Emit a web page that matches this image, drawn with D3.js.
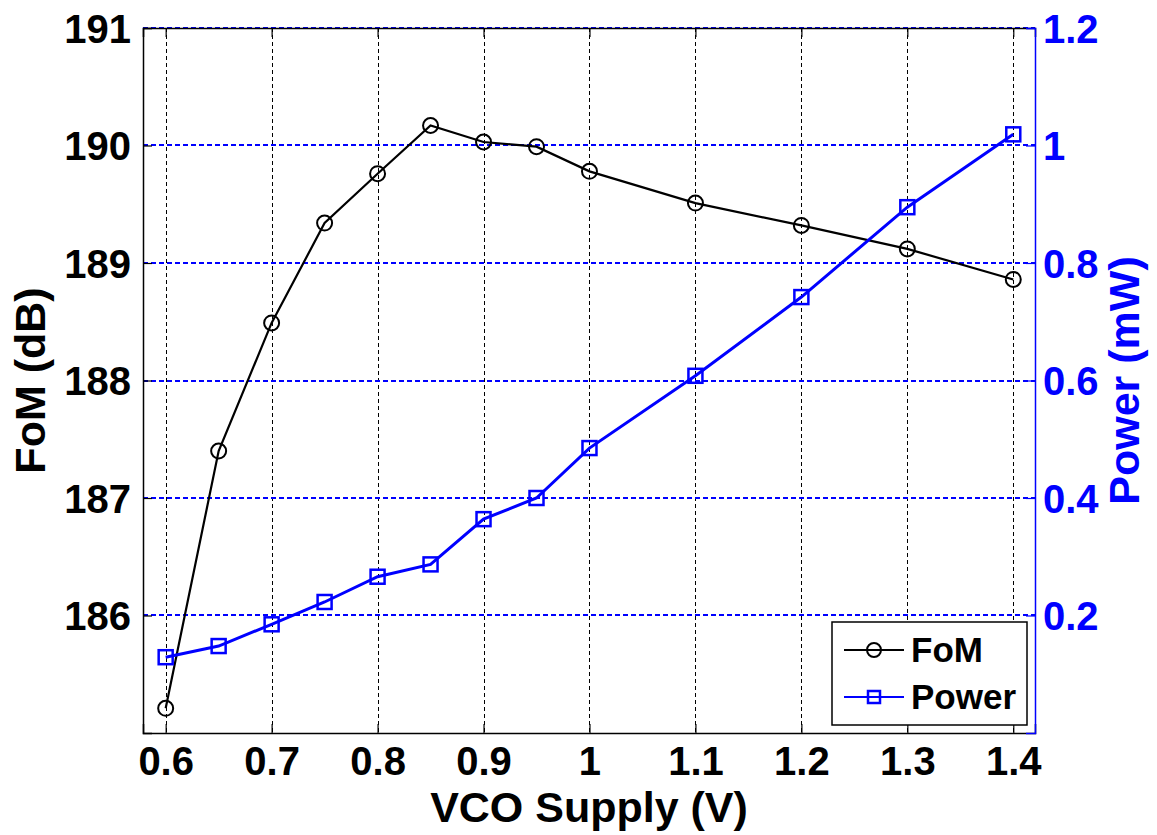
<!DOCTYPE html>
<meta charset="utf-8">
<head>
    <title>FoM and Power vs VCO Supply</title>
    <script src="https://cdn.jsdelivr.net/npm/d3@7"></script>
</head>

<style>
    body { margin: 0; background: #fff; }
    text { font-family: "Liberation Sans", Arial, sans-serif; font-weight: bold; }
    .grid-x { stroke: #000; stroke-width: 1; stroke-dasharray: 4,3; shape-rendering: crispEdges; }
    .grid-y { stroke: #0000ff; stroke-width: 1.4; stroke-dasharray: 5,3; shape-rendering: crispEdges; }
</style>

<svg></svg>

<script>
    var vWidth = 1157;
    var vHeight = 835;

    // data
    var supply = [0.6, 0.65, 0.7, 0.75, 0.8, 0.85, 0.9, 0.95, 1.0, 1.1, 1.2, 1.3, 1.4];
    var fom = [185.21, 187.40, 188.49, 189.34, 189.76, 190.17, 190.03, 189.99, 189.78, 189.51, 189.32, 189.12, 188.86];
    var power = [0.129, 0.148, 0.185, 0.223, 0.266, 0.287, 0.364, 0.400, 0.485, 0.608, 0.742, 0.895, 1.019];
    var xTicks = [0.6, 0.7, 0.8, 0.9, 1.0, 1.1, 1.2, 1.3, 1.4];
    var fomTicks = [186, 187, 188, 189, 190, 191];
    var powerTicks = [0.2, 0.4, 0.6, 0.8, 1.0, 1.2];

    var pLeft = 143, pRight = 1035, pTop = 28, pBottom = 733;

    var svg = d3.select('svg').attr('width', vWidth).attr('height', vHeight);

    var x = d3.scaleLinear().domain([0.5786, 1.4205]).range([pLeft, pRight]);
    var yL = d3.scaleLinear().domain([185, 191]).range([pBottom, pTop]);
    var yR = d3.scaleLinear().domain([0, 1.2]).range([pBottom, pTop]);

    // grid
    svg.append('g').selectAll('line').data(xTicks).enter().append('line')
        .attr('class', 'grid-x')
        .attr('x1', function (d) { return Math.round(x(d)) + 0.5; })
        .attr('x2', function (d) { return Math.round(x(d)) + 0.5; })
        .attr('y1', pTop).attr('y2', pBottom);
    svg.append('g').selectAll('line').data(powerTicks).enter().append('line')
        .attr('class', 'grid-y')
        .attr('x1', pLeft).attr('x2', pRight)
        .attr('y1', function (d) { return Math.round(yR(d)); })
        .attr('y2', function (d) { return Math.round(yR(d)); });

    // axes
    var fmt = function (d) { return String(+d.toFixed(2)); };

    var gx = svg.append('g').attr('transform', 'translate(0,' + pBottom + ')')
        .call(d3.axisBottom(x).tickValues(xTicks).tickSize(-9).tickPadding(14).tickFormat(fmt));
    var gxTop = svg.append('g').attr('transform', 'translate(0,' + pTop + ')')
        .call(d3.axisTop(x).tickValues(xTicks).tickSize(-9).tickFormat(''));
    var gl = svg.append('g').attr('transform', 'translate(' + pLeft + ',0)')
        .call(d3.axisLeft(yL).tickValues(fomTicks).tickSize(-9).tickPadding(12).tickFormat(fmt));
    var gr = svg.append('g').attr('transform', 'translate(' + pRight + ',0)')
        .call(d3.axisRight(yR).tickValues(powerTicks).tickSize(-9).tickPadding(8).tickFormat(fmt));

    [gx, gxTop, gl].forEach(function (g) {
        g.select('.domain').attr('stroke', '#000').attr('stroke-width', 1.5);
        g.selectAll('.tick line').attr('stroke', '#000').attr('stroke-width', 1.2);
        g.selectAll('.tick text').attr('fill', '#000').style('font-size', '40px');
    });
    gr.select('.domain').attr('stroke', '#0000ff').attr('stroke-width', 1.5);
    gr.selectAll('.tick line').attr('stroke', '#0000ff').attr('stroke-width', 1.2);
    gr.selectAll('.tick text').attr('fill', '#0000ff').style('font-size', '40px');
    gl.selectAll('.tick text').attr('dy', '0.36em');
    gr.selectAll('.tick text').attr('dy', '0.36em');
    gx.selectAll('.tick text').attr('dy', '0.71em');

    // axis titles
    svg.append('text').attr('x', (pLeft + pRight) / 2).attr('y', 822)
        .attr('text-anchor', 'middle').style('font-size', '43px').attr('fill', '#000')
        .text('VCO Supply (V)');
    svg.append('text').attr('transform', 'translate(45,' + (pTop + pBottom) / 2 + ') rotate(-90)')
        .attr('text-anchor', 'middle').style('font-size', '43px').attr('fill', '#000')
        .text('FoM (dB)');
    svg.append('text').attr('transform', 'translate(1139,' + (pTop + pBottom) / 2 + ') rotate(-90)')
        .attr('text-anchor', 'middle').style('font-size', '43px').attr('fill', '#0000ff')
        .text('Power (mW)');

    // series
    var fomLine = d3.line()
        .x(function (d, i) { return x(supply[i]); })
        .y(function (d) { return yL(d); });
    var powLine = d3.line()
        .x(function (d, i) { return x(supply[i]); })
        .y(function (d) { return yR(d); });

    svg.append('path').datum(fom).attr('d', fomLine)
        .attr('fill', 'none').attr('stroke', '#000').attr('stroke-width', 2.2);
    svg.append('g').selectAll('circle').data(fom).enter().append('circle')
        .attr('cx', function (d, i) { return x(supply[i]); })
        .attr('cy', function (d) { return yL(d); })
        .attr('r', 7.5).attr('fill', 'none').attr('stroke', '#000').attr('stroke-width', 2);

    svg.append('path').datum(power).attr('d', powLine)
        .attr('fill', 'none').attr('stroke', '#0000ff').attr('stroke-width', 3);
    svg.append('g').selectAll('rect').data(power).enter().append('rect')
        .attr('x', function (d, i) { return x(supply[i]) - 7; })
        .attr('y', function (d) { return yR(d) - 7; })
        .attr('width', 14).attr('height', 14)
        .attr('fill', 'none').attr('stroke', '#0000ff').attr('stroke-width', 2.5);

    // legend
    var lg = svg.append('g');
    lg.append('rect').attr('x', 832).attr('y', 622).attr('width', 195).attr('height', 103)
        .attr('fill', '#fff').attr('stroke', '#000').attr('stroke-width', 1.5);
    lg.append('line').attr('x1', 844).attr('x2', 904).attr('y1', 650).attr('y2', 650)
        .attr('stroke', '#000').attr('stroke-width', 2);
    lg.append('circle').attr('cx', 874).attr('cy', 650).attr('r', 7)
        .attr('fill', 'none').attr('stroke', '#000').attr('stroke-width', 2);
    lg.append('text').attr('x', 911).attr('y', 662).style('font-size', '35px').text('FoM');
    lg.append('line').attr('x1', 844).attr('x2', 904).attr('y1', 697).attr('y2', 697)
        .attr('stroke', '#0000ff').attr('stroke-width', 2);
    lg.append('rect').attr('x', 868).attr('y', 691).attr('width', 12).attr('height', 12)
        .attr('fill', 'none').attr('stroke', '#0000ff').attr('stroke-width', 2.5);
    lg.append('text').attr('x', 911).attr('y', 709).style('font-size', '35px').text('Power');
</script>
